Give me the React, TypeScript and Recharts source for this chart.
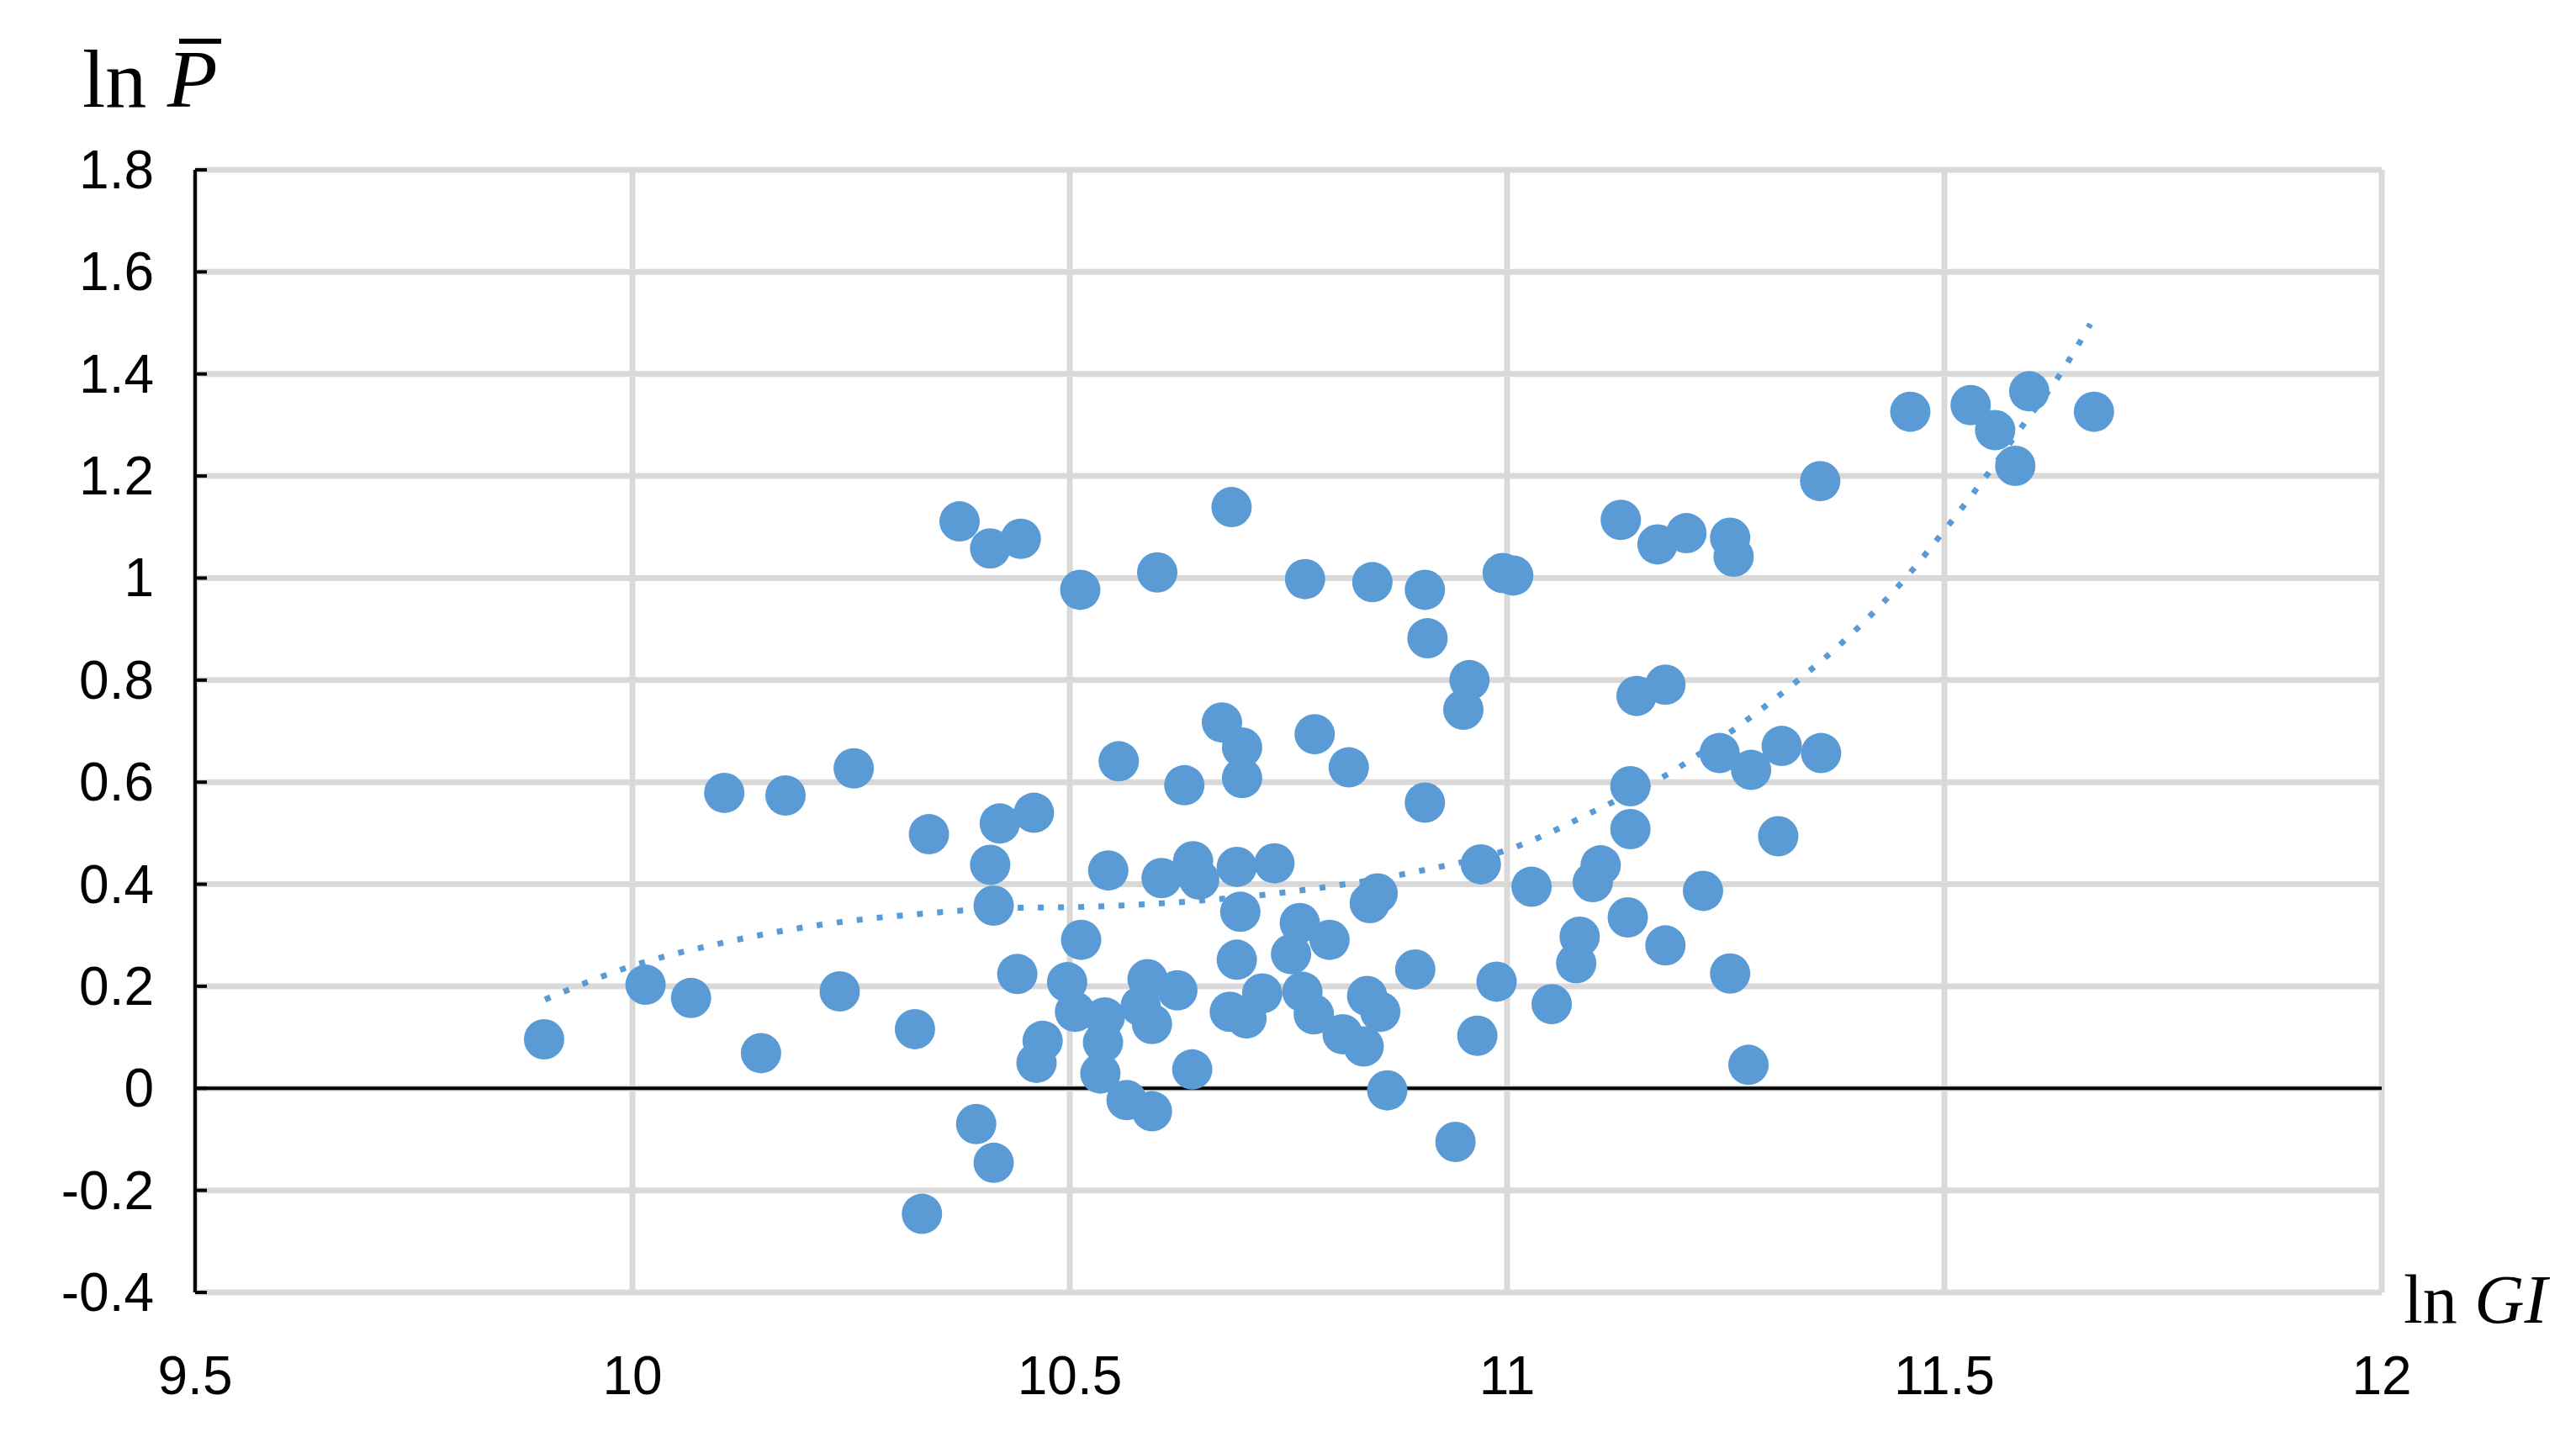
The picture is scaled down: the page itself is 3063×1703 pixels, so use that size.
import React from 'react';
import { ScatterChart, Scatter, XAxis, YAxis, CartesianGrid, ReferenceLine } from 'recharts';

const xTicks = [9.5, 10, 10.5, 11, 11.5, 12];
const yTicks = [-0.4, -0.2, 0, 0.2, 0.4, 0.6, 0.8, 1, 1.2, 1.4, 1.6, 1.8];

// observed points: ln GI and ln P (paired by index)
const lnGI = [
  9.899, 10.015, 10.067, 10.147, 10.237, 10.323, 10.331, 10.393, 10.413, 10.105,
  10.175, 10.253, 10.339, 10.374, 10.409, 10.444, 10.42, 10.459, 10.409, 10.413,
  10.44, 10.469, 10.462, 10.685, 10.512, 10.6, 10.769, 10.846, 10.906, 10.909,
  10.957, 10.95, 10.674, 10.697, 10.697, 10.78, 10.819, 10.556, 10.631, 10.906,
  10.544, 10.605, 10.641, 10.648, 10.691, 10.734, 10.695, 10.763, 10.797, 10.753,
  10.852, 10.843, 10.895, 10.513, 10.497, 10.506, 10.54, 10.538, 10.535, 10.589,
  10.623, 10.581, 10.594, 10.64, 10.565, 10.594, 10.691, 10.683, 10.702, 10.72,
  10.766, 10.779, 10.812, 10.836, 10.84, 10.855, 10.863, 10.941, 10.966, 10.988,
  10.97, 10.995, 11.007, 11.13, 11.172, 11.205, 11.255, 11.259, 11.358, 11.148,
  11.181, 11.243, 11.279, 11.314, 11.359, 11.141, 11.141, 11.31, 11.028, 11.107,
  11.098, 11.224, 11.138, 11.181, 11.083, 11.079, 11.255, 11.051, 11.276, 11.461,
  11.53, 11.558, 11.597, 11.581, 11.671,
];
const lnP = [
  0.096, 0.203, 0.177, 0.069, 0.19, 0.116, -0.246, -0.07, -0.146, 0.579,
  0.574, 0.627, 0.498, 1.111, 1.058, 1.077, 0.519, 0.54, 0.438, 0.358,
  0.224, 0.093, 0.05, 1.139, 0.977, 1.011, 0.998, 0.992, 0.977, 0.882,
  0.8, 0.742, 0.717, 0.668, 0.608, 0.694, 0.629, 0.641, 0.594, 0.56,
  0.427, 0.412, 0.445, 0.409, 0.434, 0.441, 0.346, 0.324, 0.291, 0.263,
  0.382, 0.363, 0.233, 0.291, 0.208, 0.15, 0.139, 0.09, 0.029, 0.214,
  0.192, 0.161, 0.126, 0.037, -0.023, -0.045, 0.252, 0.15, 0.137, 0.186,
  0.189, 0.145, 0.106, 0.082, 0.181, 0.15, -0.004, -0.105, 0.103, 0.209,
  0.439, 1.01, 1.005, 1.114, 1.066, 1.088, 1.079, 1.042, 1.19, 0.769,
  0.791, 0.657, 0.624, 0.671, 0.657, 0.592, 0.508, 0.494, 0.395, 0.437,
  0.404, 0.387, 0.335, 0.28, 0.297, 0.245, 0.225, 0.165, 0.046, 1.326,
  1.339, 1.29, 1.366, 1.22, 1.326,
];

// dotted trend curve
const trendGI = [
  9.9, 10.0, 10.108, 10.217, 10.33, 10.443, 10.5, 10.65, 10.765, 10.897,
  11.005, 11.109, 11.186, 11.26, 11.333, 11.386, 11.452, 11.508, 11.55, 11.59,
  11.631, 11.667,
];
const trendP = [
  0.174, 0.24, 0.287, 0.321, 0.342, 0.354, 0.355, 0.368, 0.388, 0.425,
  0.47, 0.551, 0.618, 0.704, 0.8, 0.878, 0.993, 1.111, 1.205, 1.3,
  1.396, 1.498,
];

const BLUE = '#5B9BD5';
const TICK_FONT = '"Liberation Sans", Arial, sans-serif';
const SERIF = '"Liberation Serif", "Times New Roman", serif';

const points = lnGI.map((x, i) => ({ x, y: lnP[i] }));
const trend = trendGI.map((x, i) => ({ x, y: trendP[i] }));

function YTick({ x, y, payload }: any) {
  return (
    <g>
      <line x1={x} x2={x + 14} y1={y} y2={y} stroke="#000" strokeWidth={4} />
      <text x={x - 49} y={y} textAnchor="end" dominantBaseline="central" fontSize={64} fontFamily={TICK_FONT} fill="#000">
        {payload.value}
      </text>
    </g>
  );
}

function XTick({ x, y, payload }: any) {
  return (
    <text x={x} y={y + 99} textAnchor="middle" dominantBaseline="central" fontSize={64} fontFamily={TICK_FONT} fill="#000">
      {payload.value}
    </text>
  );
}

const Dot = ({ cx, cy }: any) => <circle cx={cx} cy={cy} r={24} fill={BLUE} />;

export default function App() {
  return (
    <div style={{ position: 'relative', width: 3063, height: 1703 }}>
      <style>{'body{margin:0;background:#fff}'}</style>
      <ScatterChart width={3063} height={1703} margin={{ top: 202, right: 231, bottom: 0, left: 0 }}>
        <CartesianGrid stroke="#d9d9d9" strokeWidth={7} />
        <XAxis
          type="number"
          dataKey="x"
          domain={[9.5, 12]}
          ticks={xTicks}
          height={166}
          axisLine={false}
          tickLine={false}
          tickSize={0}
          tickMargin={0}
          tick={<XTick />}
        />
        <YAxis
          type="number"
          dataKey="y"
          domain={[-0.4, 1.8]}
          ticks={yTicks}
          width={232}
          axisLine={{ stroke: '#000', strokeWidth: 4 }}
          tickLine={false}
          tickSize={0}
          tickMargin={0}
          tick={<YTick />}
        />
        <ReferenceLine y={0} stroke="#000" strokeWidth={4} />
        <Scatter data={points} shape={<Dot />} isAnimationActive={false} />
        <Scatter
          data={trend}
          line={{ stroke: BLUE, strokeWidth: 7, strokeDasharray: '7 17' }}
          lineJointType="monotoneX"
          shape={() => <g />}
          isAnimationActive={false}
        />
      </ScatterChart>
      <svg width={3063} height={1703} style={{ position: 'absolute', left: 0, top: 0, pointerEvents: 'none' }}>
        <text x={98} y={127} fontSize={98} fontFamily={SERIF} fill="#000">
          ln <tspan fontStyle="italic">P</tspan>
        </text>
        <rect x={213} y={46} width={50} height={6} fill="#000" />
        <text x={2858} y={1573} fontSize={82} fontFamily={SERIF} fill="#000">
          ln <tspan fontStyle="italic">GI</tspan>
        </text>
      </svg>
    </div>
  );
}
